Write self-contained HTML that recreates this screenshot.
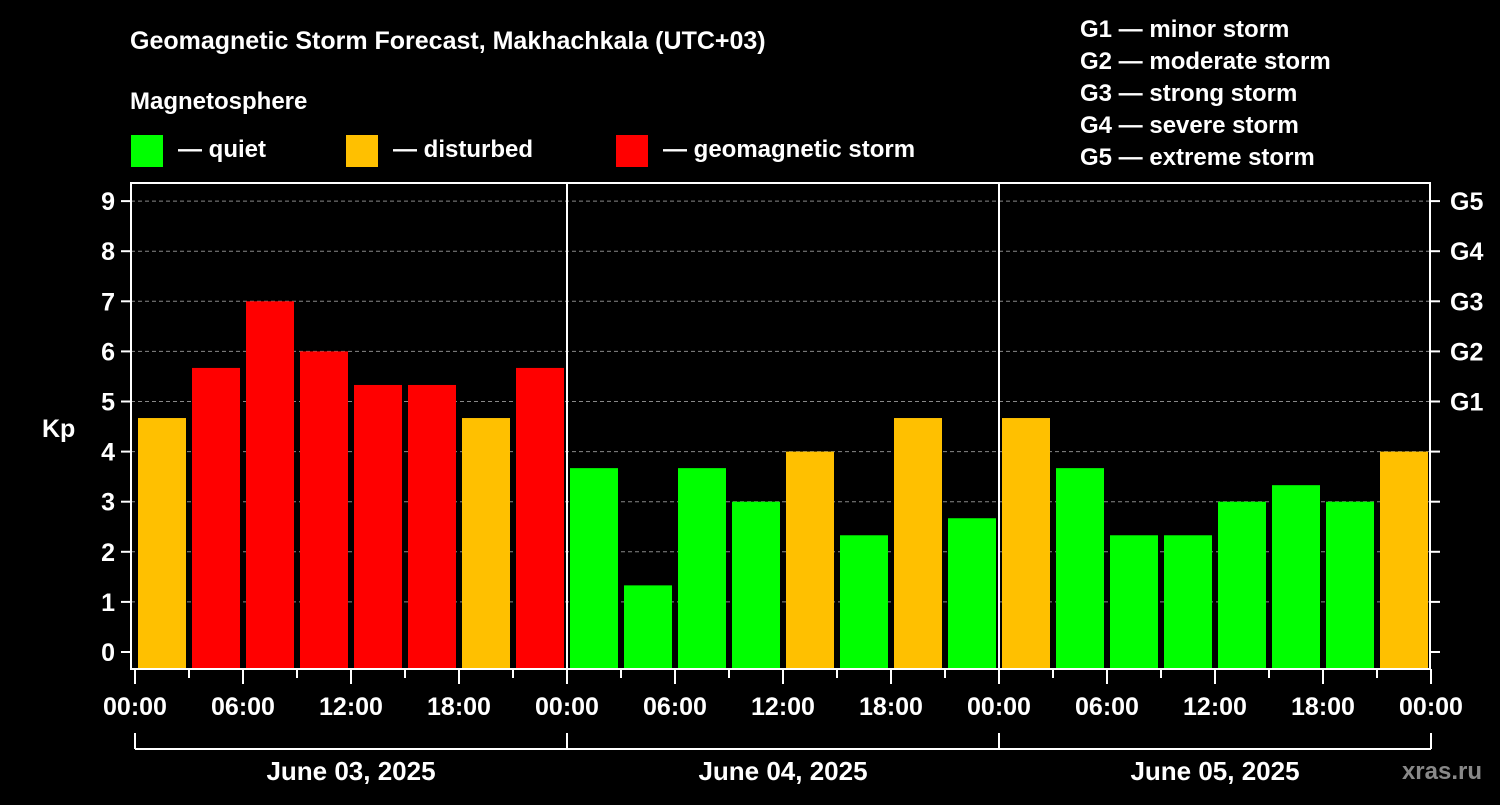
<!DOCTYPE html>
<html><head><meta charset="utf-8"><style>
body{margin:0;background:#000;width:1500px;height:800px;overflow:hidden}
svg text{font-family:"Liberation Sans",sans-serif;font-weight:bold;fill:#fff}
</style></head><body>
<svg id="c" width="1500" height="800">
<text x="130" y="49" font-size="25">Geomagnetic Storm Forecast, Makhachkala (UTC+03)</text>
<text x="130" y="109" font-size="24">Magnetosphere</text>
<rect x="131" y="135" width="32" height="32" fill="#00ff00"/>
<text x="178" y="157" font-size="24">— quiet</text>
<rect x="346" y="135" width="32" height="32" fill="#ffc000"/>
<text x="393" y="157" font-size="24">— disturbed</text>
<rect x="616" y="135" width="32" height="32" fill="#ff0000"/>
<text x="663" y="157" font-size="24">— geomagnetic storm</text>
<g font-size="24">
<text x="1080" y="37">G1 — minor storm</text>
<text x="1080" y="69">G2 — moderate storm</text>
<text x="1080" y="101">G3 — strong storm</text>
<text x="1080" y="133">G4 — severe storm</text>
<text x="1080" y="165">G5 — extreme storm</text>
</g>
<text x="42" y="437" font-size="25">Kp</text>
<text x="1482" y="779" font-size="24" fill="#888" style="fill:#888" text-anchor="end">xras.ru</text>
<g id="plot"></g>
</svg>
<script>
const kpValues=[4.67,5.67,7,6,5.33,5.33,4.67,5.67, 3.67,1.33,3.67,3,4,2.33,4.67,2.67, 4.67,3.67,2.33,2.33,3,3.33,3,4];
const dayLabels=["June 03, 2025","June 04, 2025","June 05, 2025"];
const timeLabels=["00:00","06:00","12:00","18:00"];
const gLabels=["G1","G2","G3","G4","G5"];
const kpTicks=[0,1,2,3,4,5,6,7,8,9];

const NS="http://www.w3.org/2000/svg";
const g=document.getElementById('plot');
const X0=135,DAYW=432,L=131,R=1430,T=183,B=669;
const y=v=>652-v*50.1;
const xh=h=>X0+h/24*DAYW;
function el(t,a,p){const e=document.createElementNS(NS,t);for(const k in a)e.setAttribute(k,a[k]);(p||g).appendChild(e);return e;}
for(const k of kpTicks){
 if(k>0){const l=el('line',{x1:L,x2:R,y1:y(k),y2:y(k),stroke:'#888','stroke-dasharray':'4,3','stroke-width':1});
 
 }
 el('line',{x1:121,x2:L,y1:y(k),y2:y(k),stroke:'#fff','stroke-width':2});
 el('line',{x1:R,x2:1440,y1:y(k),y2:y(k),stroke:'#fff','stroke-width':2});
 const t=el('text',{x:115,y:y(k)+9,'font-size':25,'text-anchor':'end'});t.textContent=k;
 
 
}
gLabels.forEach((s,i)=>{const t=el('text',{x:1450,y:y(5+i)+9,'font-size':25});t.textContent=s;
 
 });
kpValues.forEach((v,i)=>{
 const c=v>=5?'#ff0000':v>=4?'#ffc000':'#00ff00';
 const r=el('rect',{x:xh(i*3)+3,y:y(v),width:48,height:B-y(v),fill:c});
 
 
});
el('rect',{x:L,y:T,width:R-L,height:B-T,fill:'none',stroke:'#fff','stroke-width':2});
for(let d=1;d<3;d++)el('line',{x1:xh(d*24),x2:xh(d*24),y1:T,y2:B,stroke:'#fff','stroke-width':2});
for(let h=0;h<=72;h+=3){const maj=h%6==0;el('line',{x1:xh(h),x2:xh(h),y1:B,y2:maj?684:678,stroke:'#fff','stroke-width':2});}
for(let h=0;h<=72;h+=6){const t=el('text',{x:xh(h),y:715,'font-size':25,'text-anchor':'middle'});t.textContent=timeLabels[(h/6)%4];
 
 }
el('line',{x1:X0,x2:xh(72),y1:749,y2:749,stroke:'#fff','stroke-width':2});
for(let d=0;d<=3;d++)el('line',{x1:xh(d*24),x2:xh(d*24),y1:733,y2:749,stroke:'#fff','stroke-width':2});
dayLabels.forEach((s,d)=>{const t=el('text',{x:xh(d*24+12),y:780,'font-size':26,'text-anchor':'middle'});t.textContent=s;
 
 });
</script>
</body></html>
